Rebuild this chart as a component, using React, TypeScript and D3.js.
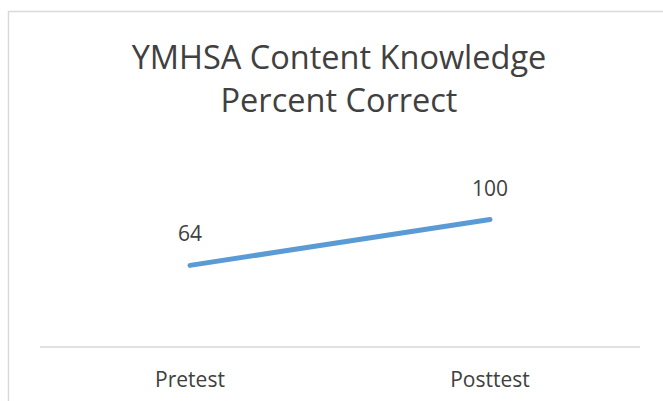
import React from "react";
import * as d3 from "d3";

const categories = ["Pretest", "Posttest"];
const values = [64, 100];
const titleLines = ["YMHSA Content Knowledge", "Percent Correct"];

const width = 663;
const height = 401;
const plotLeft = 40;
const plotRight = 640;
const plotBottom = 347;
const font = "'Open Sans', 'Noto Sans', sans-serif";
const textColor = "#404040";

const App = () => {
  const xScale = d3
    .scaleBand()
    .domain(categories)
    .range([plotLeft, plotRight]);

  const yScale = d3.scaleLinear().domain([0, 120]).range([plotBottom, 194]);

  const points = categories.map((c, i) => ({ cat: c, value: values[i] }));

  const line = d3
    .line<{ cat: string; value: number }>()
    .x((d) => (xScale(d.cat) as number) + xScale.bandwidth() / 2)
    .y((d) => yScale(d.value));

  return (
    <div style={{ position: "fixed", left: 0, top: 0 }}>
      <svg width={width} height={height} style={{ display: "block" }}>
        <rect x={0} y={0} width={width} height={height} fill="#fff" />
        <rect
          x={8.5}
          y={11.5}
          width={width + 20}
          height={height + 20}
          fill="none"
          stroke="#d9d9d9"
          strokeWidth={1.5}
        />
        {titleLines.map((t, i) => (
          <text
            key={t}
            x={339}
            y={69 + i * 43}
            textAnchor="middle"
            fontFamily={font}
            fontSize={32.5}
            fill={textColor}
          >
            {t}
          </text>
        ))}
        <line
          x1={plotLeft}
          x2={plotRight}
          y1={plotBottom}
          y2={plotBottom}
          stroke="#d9d9d9"
          strokeWidth={1.5}
        />
        <path
          d={line(points) || ""}
          fill="none"
          stroke="#5b9bd5"
          strokeWidth={5}
          strokeLinecap="round"
        />
        {points.map((p) => (
          <text
            key={"v" + p.cat}
            x={(xScale(p.cat) as number) + xScale.bandwidth() / 2}
            y={yScale(p.value) - 24}
            textAnchor="middle"
            fontFamily={font}
            fontSize={21}
            fill={textColor}
          >
            {p.value}
          </text>
        ))}
        {categories.map((c) => (
          <text
            key={c}
            x={(xScale(c) as number) + xScale.bandwidth() / 2}
            y={387}
            textAnchor="middle"
            fontFamily={font}
            fontSize={21}
            fill={textColor}
          >
            {c}
          </text>
        ))}
      </svg>
    </div>
  );
};

export default App;
